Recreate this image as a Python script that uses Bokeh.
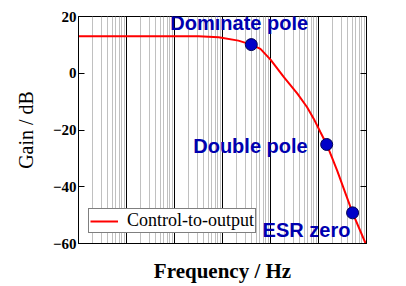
from bokeh.plotting import figure
from bokeh.models import LinearAxis, FixedTicker, Label, Legend, LegendItem
from bokeh.embed import file_html
from bokeh.resources import INLINE

# Control-to-output gain curve
freq = [10, 3162, 8300, 21400, 39800, 61700, 100000, 190000, 363000, 575000,
        794000, 1.1e6, 1.48e6, 1.95e6, 2.45e6, 5.13e6, 9.6e6]
gain = [13.0, 13.0, 12.7, 11.5, 10.1, 8.6, 4.8, -1.4, -7.2, -11.9,
        -16.0, -20.8, -25.1, -30.1, -34.3, -49.2, -60.0]

# marked points
pole_names = ["Dominate pole", "Double pole", "ESR zero"]
pole_freq = [39800, 1.48e6, 5.13e6]
pole_gain = [10.1, -25.1, -49.2]

# axes
y_ticks = [-60, -40, -20, 0, 20]
y_tick_labels = ["\u221260", "\u221240", "\u221220", "0", "20"]
x_min, x_max = 10, 1e7
x_decades = [10, 100, 1e3, 1e4, 1e5, 1e6, 1e7]

minor = [m * d for d in x_decades[:-1] for m in range(2, 10)]

SERIF = "Liberation Serif"

p = figure(width=406, height=286, x_axis_type="log", x_range=(x_min, x_max), y_range=(-60, 20),
           output_backend="svg", toolbar_location=None,
           min_border_left=78, min_border_right=40, min_border_top=16, min_border_bottom=43)
p.background_fill_color = "white"
p.border_fill_color = "white"
p.outline_line_color = "black"
p.outline_line_width = 1

xt = FixedTicker(ticks=x_decades, minor_ticks=minor)
p.xaxis.ticker = xt
p.xgrid.ticker = xt
p.xgrid.grid_line_color = "black"
p.xgrid.grid_line_width = 1
p.xgrid.minor_grid_line_color = "#c0c0c0"
p.xgrid.minor_grid_line_width = 1
p.ygrid.grid_line_color = None

p.xaxis.major_label_text_font_size = "1px"
p.xaxis.major_label_text_alpha = 0
p.xaxis.major_label_standoff = 0
p.xaxis.major_tick_line_color = None
p.xaxis.minor_tick_line_color = None
p.xaxis.axis_line_color = "black"
p.xaxis.axis_label = "Frequency / Hz"
p.xaxis.axis_label_text_font = SERIF
p.xaxis.axis_label_text_font_style = "bold"
p.xaxis.axis_label_text_font_size = "21px"
p.xaxis.axis_label_text_color = "black"
p.xaxis.axis_label_standoff = 9

p.yaxis.ticker = FixedTicker(ticks=y_ticks)
p.yaxis.major_label_overrides = {t: s for t, s in zip(y_ticks, y_tick_labels)}
p.yaxis.major_tick_in = 6
p.yaxis.major_tick_out = 0
p.yaxis.minor_tick_line_color = None
p.yaxis.axis_line_color = "black"
p.yaxis.major_label_text_font = SERIF
p.yaxis.major_label_text_font_style = "bold"
p.yaxis.major_label_text_font_size = "15px"
p.yaxis.major_label_text_color = "black"
p.yaxis.major_label_standoff = 2
p.yaxis.axis_label = "Gain / dB"
p.yaxis.axis_label_text_font = SERIF
p.yaxis.axis_label_text_font_style = "normal"
p.yaxis.axis_label_text_font_size = "20px"
p.yaxis.axis_label_text_color = "black"
p.yaxis.axis_label_standoff = 13

ra = LinearAxis(ticker=FixedTicker(ticks=y_ticks), major_label_text_font_size="1px",
                major_label_text_alpha=0,
                major_tick_in=6, major_tick_out=0, minor_tick_line_color=None,
                major_label_standoff=0, axis_line_color="black")
p.add_layout(ra, "right")

line = p.line(freq, gain, line_color="#ff0000", line_width=2)
p.scatter(pole_freq, pole_gain, size=12, fill_color="#0000c8", line_color="#000050", line_width=1)

offsets = [(-81, 22, "left"), (-19, -2, "right"), (-90, -17, "left")]
for name, fx, gy, (dx, dy, al) in zip(pole_names, pole_freq, pole_gain, offsets):
    p.add_layout(Label(x=fx, y=gy, text=name, x_offset=dx, y_offset=dy, text_align=al,
                       text_baseline="alphabetic", text_font="Liberation Sans",
                       text_font_style="bold", text_font_size="20px", text_color="#0000b0"))

legend = Legend(items=[LegendItem(label="Control-to-output", renderers=[line])],
                location=(10, 10), border_line_color="black", border_line_width=1,
                background_fill_color="white", background_fill_alpha=1,
                padding=1, margin=0, spacing=0, label_standoff=9,
                glyph_width=28, glyph_height=18, label_height=18,
                label_text_font=SERIF, label_text_font_size="18px",
                label_text_color="black")
p.add_layout(legend)

open("out.html", "w").write(file_html(p, INLINE))
